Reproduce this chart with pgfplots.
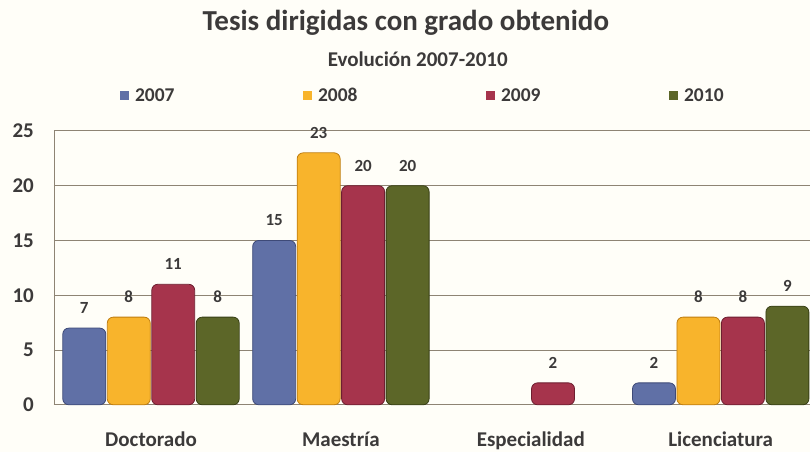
\documentclass[border=0pt]{standalone}
\usepackage{fontspec}
\setmainfont{Carlito}
\usepackage{pgfplots}
\pgfplotsset{compat=1.18}
\definecolor{bgc}{HTML}{FFFEF8}
\definecolor{txt}{HTML}{3C3A3A}
\definecolor{gridc}{HTML}{8E8474}
\definecolor{c07}{HTML}{6070A6}
\definecolor{c07d}{HTML}{3E4A78}
\definecolor{c08}{HTML}{F8B42C}
\definecolor{c08d}{HTML}{C07E10}
\definecolor{c09}{HTML}{A6344C}
\definecolor{c09d}{HTML}{6E1E30}
\definecolor{c10}{HTML}{5C6628}
\definecolor{c10d}{HTML}{384016}
\begin{document}
\begin{tikzpicture}
\fill[bgc] (0pt,0pt) rectangle (810pt,452pt);
\node[anchor=base, font=\bfseries\fontsize{29}{33}\selectfont, text=txt] at (406pt,421pt) {Tesis dirigidas con grado obtenido};
\node[anchor=base, font=\bfseries\fontsize{21}{24}\selectfont, text=txt] at (418pt,385pt) {Evolución 2007-2010};
\begin{axis}[
  at={(54pt,47pt)}, anchor=south west,
  scale only axis, width=756pt, height=274pt,
  ybar=1.5pt, bar width=43pt,
  xmin=-0.511, xmax=3.468,
  ymin=0, ymax=25,
  ytick={0,5,10,15,20,25},
  xtick={0,1,2,3},
  xticklabels={Doctorado,Maestría,Especialidad,Licenciatura},
  major tick length=0pt,
  ymajorgrids, grid style={gridc, line width=0.9pt},
  axis line style={gridc, line width=0.9pt},
  axis x line*=bottom, axis y line*=left,
  /pgf/number format/assume math mode=true,
  yticklabel style={font=\bfseries\fontsize{21}{24}\selectfont, text=txt, anchor=east, inner sep=0pt, xshift=-20pt},
  xticklabel style={font=\bfseries\fontsize{21}{24}\selectfont, text=txt, anchor=base, yshift=-42pt},
  nodes near coords,
  every node near coord/.append style={font=\bfseries\fontsize{17}{20}\selectfont, text=txt, inner sep=0pt, yshift=14pt},
  legend style={at={(axis description cs:0.0873,1.129)}, anchor=west, draw=none, fill=none,
    legend columns=4, font=\bfseries\fontsize{19.5}{22}\selectfont, text=txt,
    inner sep=0pt, outer sep=0pt,
    /tikz/every even column/.append style={column sep=126.5pt}},
  legend image code/.code={\fill[#1, sharp corners, draw=none] (0pt,-4.5pt) rectangle (9pt,4.5pt); \path[draw=none, fill=none] (13pt,0pt) circle (0.1pt);},
  clip=false,
]
\addplot[fill=c07, draw=c07d, line width=0.8pt, rounded corners=6pt] coordinates {(0,7) (1,15) (3,2)};
\addplot[fill=c08, draw=c08d, line width=0.8pt, rounded corners=6pt] coordinates {(0,8) (1,23) (3,8)};
\addplot[fill=c09, draw=c09d, line width=0.8pt, rounded corners=6pt] coordinates {(0,11) (1,20) (2,2) (3,8)};
\addplot[fill=c10, draw=c10d, line width=0.8pt, rounded corners=6pt] coordinates {(0,8) (1,20) (3,9)};
\legend{2007,2008,2009,2010}
\end{axis}
\end{tikzpicture}
\end{document}
